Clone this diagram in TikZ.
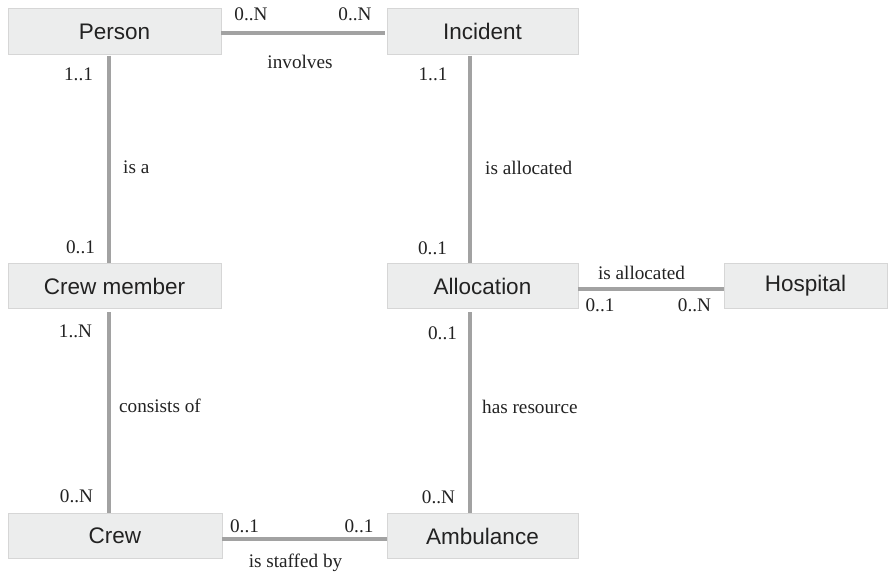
\documentclass[tikz,border=0pt]{standalone}
\usepackage{fontspec}
\setmainfont{Liberation Serif}
\newfontfamily\boxfont{Liberation Sans}
\definecolor{boxfill}{HTML}{ECEDED}
\definecolor{boxline}{HTML}{D6D6D6}
\definecolor{conn}{HTML}{A2A2A2}
\definecolor{txt}{HTML}{222222}
\begin{document}
\begin{tikzpicture}[x=1pt,y=-1pt,
  entity/.style={draw=boxline,fill=boxfill,line width=0.8pt,inner sep=0pt,
    minimum height=45.5pt,text=txt,font=\boxfont\fontsize{22.5}{25}\selectfont},
  rel/.style={draw=conn,line width=3.6pt},
  lbl/.style={inner sep=0pt,anchor=base,text=txt,font=\fontsize{19.2}{21}\selectfont},
  lbll/.style={lbl,anchor=base west}]
\useasboundingbox (0,0) rectangle (888,571);
% entities
\node[entity,minimum width=213pt] (person) at (114.5,31.5) {Person};
\node[entity,minimum width=191pt] (incident) at (482.5,31.5) {Incident};
\node[entity,minimum width=213pt] (crewmember) at (114.5,286) {Crew member};
\node[entity,minimum width=191pt] (allocation) at (482.5,286) {Allocation};
\node[entity,minimum width=163pt] (hospital) at (805.5,286) {Hospital};
\node[entity,minimum width=214pt] (crew) at (115,536) {Crew};
\node[entity,minimum width=191pt] (ambulance) at (482.5,536) {Ambulance};
% guide coordinates
\coordinate (vl) at (109,0);
\coordinate (vr) at (470,0);
\coordinate (h1) at (0,33);
\coordinate (h2) at (0,289);
\coordinate (h3) at (0,539);
% connectors
\draw[rel,shorten >=2pt] (person.east |- h1) -- (incident.west |- h1);
\draw[rel,shorten <=1pt] (person.south -| vl) -- (crewmember.north -| vl);
\draw[rel,shorten <=1pt] (incident.south -| vr) -- (allocation.north -| vr);
\draw[rel,shorten <=3pt] (crewmember.south -| vl) -- (crew.north -| vl);
\draw[rel,shorten <=3pt] (allocation.south -| vr) -- (ambulance.north -| vr);
\draw[rel] (allocation.east |- h2) -- (hospital.west |- h2);
\draw[rel] (crew.east |- h3) -- (ambulance.west |- h3);
% labels
\node[lbl] (c1) at (251,20) {0..N};
\node[lbl] (c2) at (355,20) {0..N};
\node[lbl] (r1) at (300,68) {involves};
\node[lbl] (c3) at (78.5,80) {1..1};
\node[lbl] (c4) at (433,80) {1..1};
\node[lbll] (r2) at (123,173) {is a};
\node[lbll] (r3) at (485,174) {is allocated};
\node[lbl] (c5) at (80.5,253) {0..1};
\node[lbl] (c6) at (432.5,254) {0..1};
\node[lbl] (c7) at (75.5,337) {1..N};
\node[lbl] (c8) at (442.5,339) {0..1};
\node[lbl] (r4) at (641.5,279) {is allocated};
\node[lbl] (c9) at (600,311) {0..1};
\node[lbl] (c10) at (694.5,311) {0..N};
\node[lbll] (r5) at (119,412) {consists of};
\node[lbll] (r6) at (482,413) {has resource};
\node[lbl] (c11) at (76.5,502) {0..N};
\node[lbl] (c12) at (438.5,503) {0..N};
\node[lbl] (c13) at (244.5,532) {0..1};
\node[lbl] (c14) at (359,532) {0..1};
\node[lbl] (r7) at (295.5,567) {is staffed by};
\end{tikzpicture}
\end{document}
